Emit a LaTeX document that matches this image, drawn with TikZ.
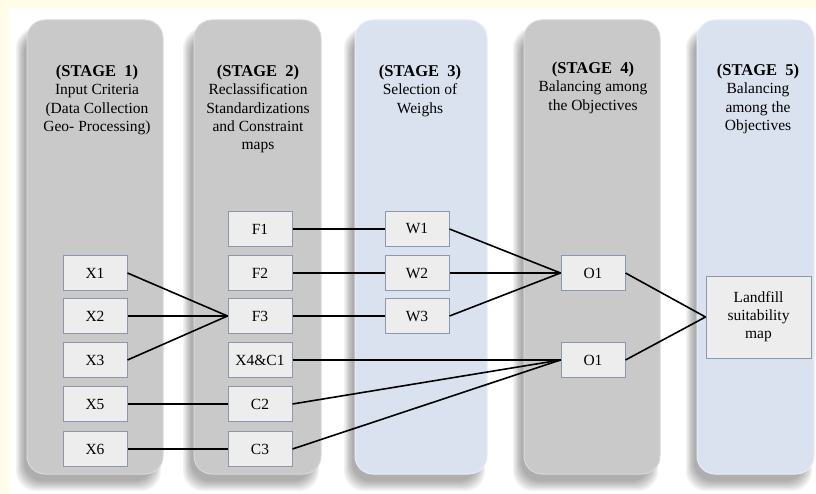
\documentclass[tikz,border=0pt]{standalone}
\usepackage{fontspec}
\setmainfont{Liberation Serif}
\definecolor{bgyellow}{HTML}{FFFCE8}
\definecolor{colgray}{HTML}{C9C9C9}
\definecolor{colblue}{HTML}{DAE1EF}
\definecolor{boxfill}{HTML}{EDEDED}
\definecolor{boxline}{HTML}{8C97AB}
\tikzset{
  colshape/.style={rounded corners=18pt, line width=1pt},
  graycol/.style={colshape, fill=colgray, draw=colgray!70!white},
  bluecol/.style={colshape, fill=colblue, draw=colblue!60!white},
  itembox/.style={draw=boxline, line width=1pt, fill=boxfill, minimum width=64pt, minimum height=35pt, inner sep=0pt, font=\fontsize{15.5}{18}\selectfont},
  title/.style={anchor=north, align=center, inner sep=0pt, font=\fontsize{15.5}{18.2}\selectfont},
  link/.style={line width=1.6pt, black}
}
\newcommand{\colshadow}[2]{%
  \foreach \k in {0,...,6}{%
    \fill[black, opacity=0.05, rounded corners=20pt] (#1-11+\k*1.3, 28+\k) rectangle (#2-2-\k*1.2, 491-\k*1.6);
  }}
\newcommand{\stitle}[1]{{\fontsize{16.5}{18.2}\selectfont\bfseries (STAGE\ \ #1)}}
\begin{document}
\begin{tikzpicture}[x=1pt, y=-1pt]
\useasboundingbox (0,0) rectangle (816,494);
\fill[bgyellow] (0,0) rectangle (816,494);
\fill[white] (9,8) rectangle (816,494);
% shadows
\colshadow{27}{163}
\colshadow{194}{321}
\colshadow{355}{487}
\colshadow{524}{660}
\colshadow{697}{814}
% columns
\path[graycol] (27,20) rectangle (163,474);
\path[graycol] (194,20) rectangle (321,474);
\path[bluecol] (355,20) rectangle (487,474);
\path[graycol] (524,20) rectangle (660,474);
\path[bluecol] (697,20) rectangle (814,474);
% titles
\node[title] (t1) at (97,65) {\stitle{1}\\Input Criteria\\(Data Collection\\Geo- Processing)};
\node[title] (t2) at (258,65) {\stitle{2}\\Reclassification\\Standardizations\\and Constraint\\maps};
\node[title] (t3) at (420,65) {\stitle{3}\\Selection of\\Weighs};
\node[title] (t4) at (593,62) {\stitle{4}\\Balancing among\\the Objectives};
\node[title] (t5) at (758,64) {\stitle{5}\\Balancing\\among the\\Objectives};
% boxes
\node[itembox] (x1) at (95,273) {X1};
\node[itembox] (x2) at (95,316) {X2};
\node[itembox] (x3) at (95,360) {X3};
\node[itembox] (x5) at (95,404) {X5};
\node[itembox] (x6) at (95,449) {X6};
\node[itembox] (f1) at (260,229) {F1};
\node[itembox] (f2) at (260,273) {F2};
\node[itembox] (f3) at (260,316) {F3};
\node[itembox] (x4c1) at (260,360) {X4\&C1};
\node[itembox] (c2) at (260,404) {C2};
\node[itembox] (c3) at (260,449) {C3};
\node[itembox] (w1) at (417,229) {W1};
\node[itembox] (w2) at (417,273) {W2};
\node[itembox] (w3) at (417,316) {W3};
\node[itembox] (o1a) at (593,273) {O1};
\node[itembox] (o1b) at (593,360) {O1};
\node[itembox, minimum width=105pt, minimum height=82pt, align=center] (lf) at (758.5,317) {Landfill\\suitability\\map};
% links
\draw[link] (x1.east) -- (f3.west);
\draw[link] (x2.east) -- (f3.west);
\draw[link] (x3.east) -- (f3.west);
\draw[link] (x5.east) -- (c2.west);
\draw[link] (x6.east) -- (c3.west);
\draw[link] (f1.east) -- (w1.west);
\draw[link] (f2.east) -- (w2.west);
\draw[link] (f3.east) -- (w3.west);
\draw[link] (w1.east) -- (o1a.west);
\draw[link] (w2.east) -- (o1a.west);
\draw[link] (w3.east) -- (o1a.west);
\draw[link] (x4c1.east) -- (o1b.west);
\draw[link] (c2.east) -- (o1b.west);
\draw[link] (c3.east) -- (o1b.west);
\draw[link] (o1a.east) -- (lf.west);
\draw[link] (o1b.east) -- (lf.west);
\end{tikzpicture}
\end{document}
